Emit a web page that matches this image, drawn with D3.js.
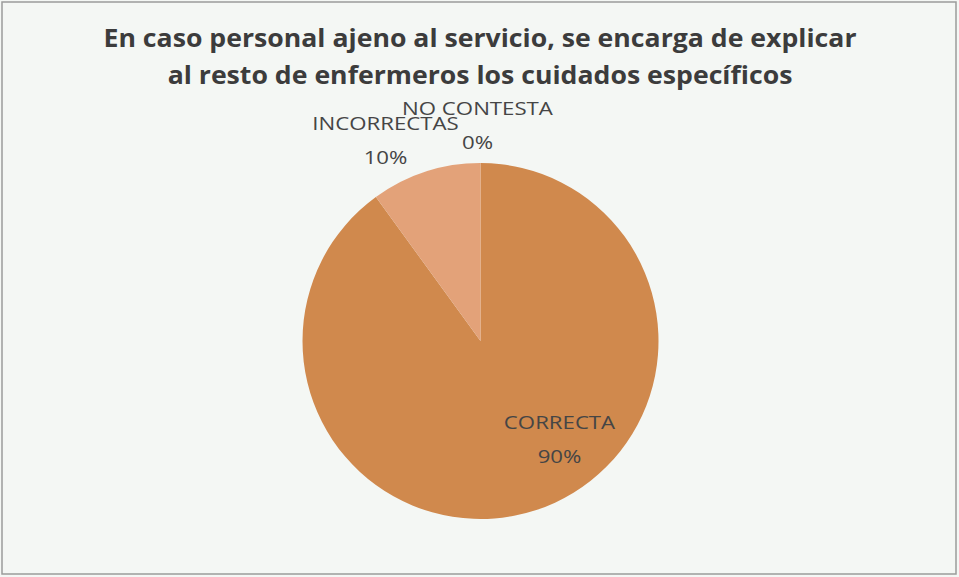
<!DOCTYPE html>
<html>
<head>
<meta charset="utf-8">
<script src="https://cdn.jsdelivr.net/npm/d3@7"></script>
<style>
  html, body { margin: 0; padding: 0; background: #f4f7f4; }
  svg { display: block; }
</style>
</head>
<body>
<svg id="chart" width="959" height="577"></svg>
<script>
// Survey answers
const categories = ["CORRECTA", "INCORRECTAS", "NO CONTESTA"];
const values = [90, 10, 0];
const percentLabels = ["90%", "10%", "0%"];
const sliceColors = ["#d0894d", "#e3a279", "#c9743a"];
const titleLines = [
  "En caso personal ajeno al servicio, se encarga de explicar",
  "al resto de enfermeros los cuidados específicos"
];

const W = 959, H = 577;
const svg = d3.select("#chart");

// background and frame
svg.append("rect").attr("x", 0).attr("y", 0).attr("width", W).attr("height", H).attr("fill", "#f4f7f4");
svg.append("rect").attr("x", 2).attr("y", 2).attr("width", W - 5).attr("height", H - 5)
  .attr("fill", "none").attr("stroke", "#9a9c9a").attr("stroke-width", 1.5);

// title (slightly widened glyphs)
svg.append("g").selectAll("text").data(titleLines).join("text")
  .attr("transform", (d, i) => `translate(480,${46.5 + i * 37}) scale(1.045,1)`)
  .attr("text-anchor", "middle")
  .attr("font-family", "'Open Sans', 'Noto Sans', sans-serif")
  .attr("font-weight", "bold")
  .attr("font-size", 25.5)
  .attr("fill", "#3c3c3c")
  .text(d => d);

// pie
const cx = 480.5, cy = 341, r = 178;
const data = categories.map((c, i) => ({ name: c, value: values[i], label: percentLabels[i], color: sliceColors[i] }));
const pie = d3.pie().value(d => d.value).sort(null);
const arc = d3.arc().innerRadius(0).outerRadius(r);
const arcs = pie(data);

const g = svg.append("g").attr("transform", `translate(${cx},${cy})`);
g.selectAll("path").data(arcs).join("path")
  .attr("d", arc)
  .attr("fill", d => d.data.color);

// data labels: category + percentage
const labelPos = {
  "CORRECTA": [79, 88],
  "INCORRECTAS": [-95, -211],
  "NO CONTESTA": [-3, -226]
};
const labels = svg.append("g")
  .attr("font-family", "'Open Sans', 'Noto Sans', sans-serif")
  .attr("font-size", 19)
  .attr("fill", "#454545")
  .attr("text-anchor", "middle");
arcs.forEach(a => {
  const [dx, dy] = labelPos[a.data.name];
  const t = labels.append("text")
    .attr("transform", `translate(${cx + dx},${cy + dy}) scale(1.17,1)`);
  t.append("tspan").attr("x", 0).attr("y", 0).text(a.data.name);
  t.append("tspan").attr("x", 0).attr("y", 34).text(a.data.label);
});
</script>
</body>
</html>
